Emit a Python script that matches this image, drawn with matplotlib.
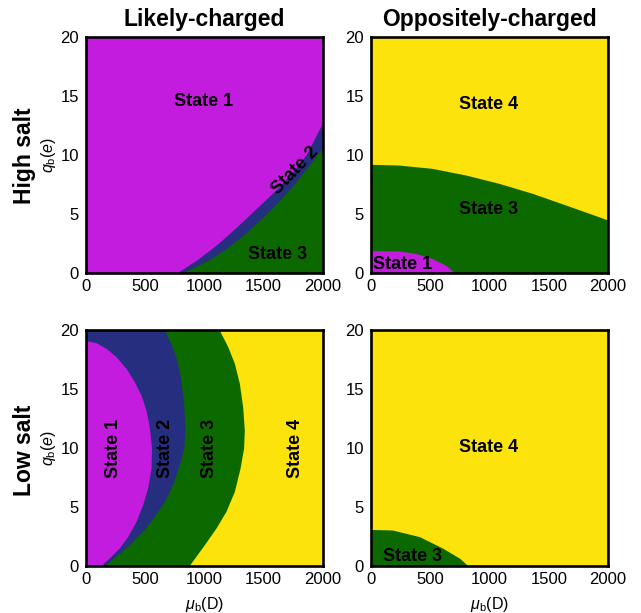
import matplotlib
matplotlib.use("Agg")
import matplotlib.pyplot as plt

plt.rcParams['font.family'] = ['Liberation Sans', 'DejaVu Sans']
plt.rcParams['mathtext.fontset'] = 'custom'
plt.rcParams['mathtext.rm'] = 'Liberation Sans'
plt.rcParams['mathtext.it'] = 'Liberation Sans:italic'

# ---- colours of the states ----
C1, C2, C3, C4 = '#C41CDE', '#262E80', '#0B6900', '#FDE30C'

# ---- axis ranges / ticks ----
mu_ticks = [0, 500, 1000, 1500, 2000]
q_ticks = [0, 5, 10, 15, 20]
col_titles = ['Likely-charged', 'Oppositely-charged']
row_titles = ['High salt', 'Low salt']

# ---- High salt, likely-charged: boundaries q(mu) ----
hl_b12_mu = [765, 934, 1103, 1271, 1440, 1609, 1750, 1862, 2000]
hl_b12_q = [0.0, 1.1, 2.4, 3.9, 5.5, 7.1, 8.6, 10.1, 12.8]
hl_b23_mu = [808, 906, 1046, 1187, 1328, 1468, 1609, 1750, 1862, 2000]
hl_b23_q = [0.0, 0.45, 1.16, 2.09, 3.22, 4.49, 5.90, 7.46, 8.87, 10.7]

# ---- High salt, oppositely-charged: boundaries q(mu) ----
ho_b34_mu = [0, 231, 514, 797, 1079, 1362, 1644, 2000]
ho_b34_q = [9.21, 9.15, 8.87, 8.31, 7.60, 6.75, 5.76, 4.49]
ho_b1_mu = [0, 231, 373, 514, 627, 706]
ho_b1_q = [1.89, 1.87, 1.67, 1.24, 0.68, 0.0]

# ---- Low salt, likely-charged: boundaries mu(q) ----
ll_b12_q = [0.0, 0.68, 1.53, 2.51, 3.78, 5.2, 6.61, 8.3, 10.0, 11.81, 13.22,
            14.49, 15.62, 16.75, 17.74, 18.45, 18.93, 19.1]
ll_b12_mu = [122, 197, 281, 352, 422, 478, 520, 549, 553, 534, 506,
             464, 408, 338, 253, 169, 84, 0]
ll_b23_q = [0.0, 0.96, 1.81, 2.94, 4.21, 5.48, 6.89, 8.59, 10.0, 11.53,
            13.79, 15.76, 17.46, 18.87, 20.0]
ll_b23_mu = [148, 267, 366, 478, 577, 661, 731, 788, 826, 835,
             824, 802, 765, 717, 661]
ll_b34_q = [0.0, 1.81, 3.22, 4.63, 6.33, 8.3, 10.0, 11.53, 13.5, 15.48,
            17.18, 18.59, 20.0]
ll_b34_mu = [868, 999, 1097, 1181, 1252, 1300, 1330, 1336, 1322, 1294,
             1252, 1196, 1125]

# ---- Low salt, oppositely-charged: boundary q(mu) ----
lo_b34_mu = [0, 181, 409, 607, 749, 820]
lo_b34_q = [3.1, 3.05, 2.49, 1.5, 0.65, 0.0]

fig = plt.figure(figsize=(6.41, 6.13), dpi=100)
W, H = 641, 613
lefts = [86, 371]
tops = [37, 330]
aw, ah = 237, 236
axes = [[None, None], [None, None]]
for r in range(2):
    for c in range(2):
        ax = fig.add_axes([lefts[c] / W, 1 - (tops[r] + ah) / H, aw / W, ah / H])
        ax.set_xlim(0, 2000)
        ax.set_ylim(0, 20)
        ax.set_xticks(mu_ticks)
        ax.set_yticks(q_ticks)
        ax.tick_params(length=0, labelsize=12, pad=4)
        ax.tick_params(axis='y', pad=5)
        for s in ax.spines.values():
            s.set_linewidth(1.9)
            s.set_zorder(5)
        axes[r][c] = ax

full_mu = [0, 2000]
lab = dict(fontsize=13, fontweight='bold', ha='center', va='center', zorder=6)

# High salt, likely
ax = axes[0][0]
ax.fill_between(full_mu, 0, 20, color=C1, lw=0)
ax.fill_between(hl_b12_mu, 0, hl_b12_q, color=C2, lw=0)
ax.fill_between(hl_b23_mu, 0, hl_b23_q, color=C3, lw=0)
ax.text(996, 14.5, 'State 1', **lab)
ax.text(1764, 8.7, 'State 2', rotation=46, **lab)
ax.text(1618, 1.6, 'State 3', **lab)

# High salt, opposite
ax = axes[0][1]
ax.fill_between(full_mu, 0, 20, color=C4, lw=0)
ax.fill_between(ho_b34_mu, 0, ho_b34_q, color=C3, lw=0)
ax.fill_between(ho_b1_mu, 0, ho_b1_q, color=C1, lw=0)
ax.text(994, 14.3, 'State 4', **lab)
ax.text(994, 5.4, 'State 3', **lab)
ax.text(268, 0.68, 'State 1', **lab)

# Low salt, likely
ax = axes[1][0]
ax.fill_between(full_mu, 0, 20, color=C4, lw=0)
ax.fill_betweenx(ll_b34_q, 0, ll_b34_mu, color=C3, lw=0)
ax.fill_betweenx(ll_b23_q, 0, ll_b23_mu, color=C2, lw=0)
ax.fill_betweenx(ll_b12_q, 0, ll_b12_mu, color=C1, lw=0)
ax.text(230, 10, 'State 1', rotation=90, **lab)
ax.text(667, 10, 'State 2', rotation=90, **lab)
ax.text(1046, 10, 'State 3', rotation=90, **lab)
ax.text(1772, 10, 'State 4', rotation=90, **lab)

# Low salt, opposite
ax = axes[1][1]
ax.fill_between(full_mu, 0, 20, color=C4, lw=0)
ax.fill_between(lo_b34_mu, 0, lo_b34_q, color=C3, lw=0)
ax.text(994, 10, 'State 4', **lab)
ax.text(351, 0.79, 'State 3', **lab)

for c in range(2):
    axes[0][c].set_title(col_titles[c], fontsize=16.5, fontweight='bold', pad=8)
for r in range(2):
    ax = axes[r][0]
    ax.set_ylabel(r'$q_{\mathrm{b}}(e)$', fontsize=11.5)
    ax.yaxis.set_label_coords(-0.118, 0.5)
    fig.text(25 / W, 1 - [156, 450][r] / H, row_titles[r], rotation=90,
             fontsize=16.5, fontweight='bold', ha='center', va='center')
for c in range(2):
    ax = axes[1][c]
    ax.set_xlabel(r'$\mu_{\mathrm{b}}$(D)', fontsize=11.5)
    ax.xaxis.set_label_coords(0.5, -0.125)

fig.savefig('out.png', dpi=100)
